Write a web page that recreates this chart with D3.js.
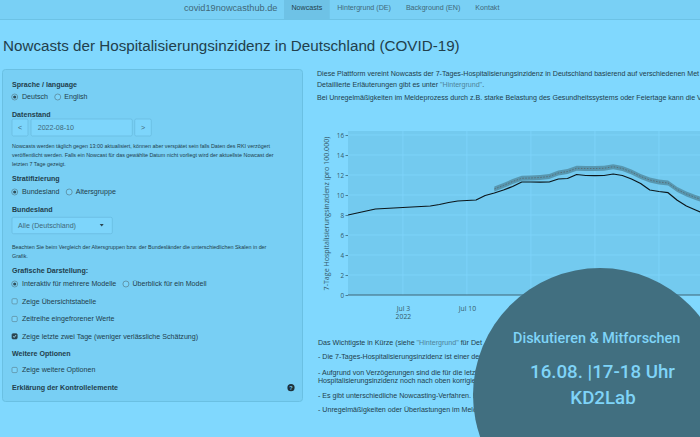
<!DOCTYPE html>
<html><head><meta charset="utf-8">
<script src="https://cdn.jsdelivr.net/npm/d3@7"></script>
<style>html,body{margin:0;padding:0;overflow:hidden;background:#80d8fe;}svg{display:block}</style>
</head><body><svg id="page" width="700" height="437"></svg>
<script>
// ---------------- data ----------------
const reportedDates = ["2022-06-27","2022-06-28","2022-06-29","2022-06-30","2022-07-01","2022-07-02","2022-07-03","2022-07-04","2022-07-05","2022-07-06","2022-07-07","2022-07-08","2022-07-09","2022-07-10","2022-07-11","2022-07-12","2022-07-13","2022-07-14","2022-07-15","2022-07-16","2022-07-17","2022-07-18","2022-07-19","2022-07-20","2022-07-21","2022-07-22","2022-07-23","2022-07-24","2022-07-25","2022-07-26","2022-07-27","2022-07-28","2022-07-29","2022-07-30","2022-07-31","2022-08-01","2022-08-02","2022-08-03","2022-08-04","2022-08-05","2022-08-06"];
const reportedValues = [8.0,8.2,8.4,8.6,8.65,8.7,8.75,8.8,8.85,8.9,9.05,9.25,9.4,9.45,9.5,9.95,10.2,10.5,10.85,11.3,11.3,11.28,11.3,11.6,11.65,12.05,11.95,11.93,11.95,12.1,11.95,11.6,11.15,10.5,10.35,10.23,9.47,8.9,8.5,8.1,7.7];
const nowcastDates = ["2022-07-13","2022-07-14","2022-07-15","2022-07-16","2022-07-17","2022-07-18","2022-07-19","2022-07-20","2022-07-21","2022-07-22","2022-07-23","2022-07-24","2022-07-25","2022-07-26","2022-07-27","2022-07-28","2022-07-29","2022-07-30","2022-07-31","2022-08-01","2022-08-02","2022-08-03","2022-08-04","2022-08-05","2022-08-06"];
const nowcastMedian = [10.6,10.95,11.35,11.67,11.7,11.75,11.85,12.2,12.35,12.67,12.65,12.65,12.67,12.83,12.65,12.3,11.85,11.5,11.3,11.2,10.55,10.1,9.75,9.45,9.15];
const nowcastLower  = [10.35,10.7,11.1,11.42,11.45,11.5,11.6,11.95,12.1,12.42,12.4,12.4,12.42,12.57,12.4,12.05,11.6,11.25,11.05,10.95,10.3,9.85,9.5,9.2,8.9];
const nowcastUpper  = [10.85,11.2,11.6,11.92,11.95,12.0,12.1,12.45,12.6,12.92,12.9,12.9,12.92,13.08,12.9,12.55,12.1,11.75,11.55,11.45,10.8,10.35,10.0,9.7,9.4];
const yTicks = [0,2,4,6,8,10,12,14,16];
const xTickDates = ["2022-07-03","2022-07-10","2022-07-17","2022-07-24","2022-07-31"];
const xDomain = ["2022-06-27","2022-08-10"];
const yMax = 16.4;
const navTabs = ["Nowcasts","Hintergrund (DE)","Background (EN)","Kontakt"];

// ---------------- style ----------------
const C = {bg:"#80d8fe", nav:"#79d0f5", navBorder:"#6cc2e5", active:"#6ec2e6", well:"#78cff4", wellBorder:"#6ac0e3",
  text:"#22404c", muted:"#3f6878", link:"#4d8399", plotBg:"#73caef", grid:"#7fd6fc", axis:"#3e6474", tick:"#35596a",
  circle:"#416f80", circleText:"#7fd4f8", band:"#5491a9", nowLine:"#566f7a", line:"#0b161b", input:"#7dd5fb", inputBorder:"#67b9dc"};
const SANS = "'Liberation Sans', Arial, Helvetica, sans-serif";
const PLOT = "'Open Sans', sans-serif";
const ROBO = "Roboto, sans-serif";

const svg = d3.select("#page");
function txt(g, x, y, s, o = {}) {
  return g.append("text").attr("x", x).attr("y", y).attr("dy", "0.35em")
    .attr("font-family", o.ff || SANS).attr("font-size", o.fs || 7.1).attr("font-weight", o.fw || 400)
    .attr("fill", o.fill || C.text).attr("text-anchor", o.anchor || "start").text(s);
}

// page bg
svg.append("rect").attr("width", 700).attr("height", 437).attr("fill", C.bg);

// ---------------- navbar ----------------
const nav = svg.append("g");
nav.append("rect").attr("width", 700).attr("height", 19.5).attr("fill", C.nav);
nav.append("line").attr("x1", 0).attr("x2", 700).attr("y1", 19.5).attr("y2", 19.5).attr("stroke", C.navBorder);
txt(nav, 184, 7.5, "covid19nowcasthub.de", {fs: 9.2, fill: C.muted});
let cursor = 284;
navTabs.forEach((t, i) => {
  const g = nav.append("g");
  const r = g.append("rect").attr("x", cursor).attr("y", 0).attr("height", 19.5).attr("fill", i === 0 ? C.active : "none");
  const tt = txt(g, cursor + 7.5, 7.5, t, {fs: 7.1, fill: i === 0 ? C.text : C.muted});
  const w = tt.node().getComputedTextLength() + 15;
  r.attr("width", w);
  cursor += w;
});

// ---------------- title ----------------
txt(svg, 3, 46, "Nowcasts der Hospitalisierungsinzidenz in Deutschland (COVID-19)", {fs: 15.2, fill: C.text});

// ---------------- sidebar ----------------
const sb = svg.append("g");
sb.append("rect").attr("x", 2.5).attr("y", 69.5).attr("width", 300).attr("height", 332).attr("rx", 3)
  .attr("fill", C.well).attr("stroke", C.wellBorder);
function label(y, s) { return txt(sb, 12, y, s, {fw: 700}); }
function radio(cx, cy, on) {
  sb.append("circle").attr("cx", cx).attr("cy", cy).attr("r", 3).attr("fill", C.input).attr("stroke", "#5b8898").attr("stroke-width", 0.8);
  if (on) sb.append("circle").attr("cx", cx).attr("cy", cy).attr("r", 1.6).attr("fill", "#2e4e5a");
}
function radioRow(cy, a, b) {
  radio(14.7, cy, true);
  const t = txt(sb, 22, cy, a);
  const end = 22 + t.node().getComputedTextLength();
  radio(end + 9.7, cy, false);
  txt(sb, end + 16.2, cy, b);
}
function checkbox(cy, s, on) {
  sb.append("rect").attr("x", 12).attr("y", cy - 2.6).attr("width", 5.2).attr("height", 5.2).attr("rx", 1)
    .attr("fill", on ? "#2b4550" : C.input).attr("stroke", on ? "#2b4550" : "#5b8898").attr("stroke-width", 0.7);
  if (on) sb.append("path").attr("d", `M13.3,${cy} L14.2,${cy + 1.1} L16,${cy - 1.2}`).attr("fill", "none").attr("stroke", "#9fe2ff").attr("stroke-width", 0.9);
  txt(sb, 22, cy, s);
}
function note(y, s) { return txt(sb, 12, y, s, {fs: 5.4}); }
function box(x0, x1, y0, y1) {
  sb.append("rect").attr("x", x0).attr("y", y0).attr("width", x1 - x0).attr("height", y1 - y0).attr("rx", 1.5)
    .attr("fill", C.input).attr("stroke", C.inputBorder).attr("stroke-width", 0.7);
}

label(84.3, "Sprache / language");
radioRow(97, "Deutsch", "English");
label(114.3, "Datenstand");
box(12, 28, 119, 136); txt(sb, 20, 127.5, "<", {anchor: "middle", fill: C.muted});
box(31, 132.3, 119, 136); txt(sb, 37.7, 127.5, "2022-08-10", {fill: C.muted});
box(134.7, 151.3, 119, 136); txt(sb, 143, 127.5, ">", {anchor: "middle", fill: C.muted});
note(146, "Nowcasts werden täglich gegen 13:00 aktualisiert, können aber verspätet sein falls Daten des RKI verzögert");
note(155, "veröffentlicht werden. Falls ein Nowcast für das gewählte Datum nicht vorliegt wird der aktuellste Nowcast der");
note(164, "letzten 7 Tage gezeigt.");
label(178.3, "Stratifizierung");
radioRow(192, "Bundesland", "Altersgruppe");
label(209.7, "Bundesland");
box(12, 112.3, 217.3, 233.7);
txt(sb, 18, 225.5, "Alle (Deutschland)", {fill: C.muted});
sb.append("path").attr("d", "M99.7,224 L103.7,224 L101.7,226.6 Z").attr("fill", "#2b4550");
note(247.3, "Beachten Sie beim Vergleich der Altersgruppen bzw. der Bundesländer die unterschiedlichen Skalen in der");
note(256, "Grafik.");
label(270.3, "Grafische Darstellung:");
radioRow(284, "Interaktiv für mehrere Modelle", "Überblick für ein Modell");
checkbox(301.3, "Zeige Übersichtstabelle", false);
checkbox(319, "Zeitreihe eingefrorener Werte", false);
checkbox(336.3, "Zeige letzte zwei Tage (weniger verlässliche Schätzung)", true);
label(354, "Weitere Optionen");
checkbox(370, "Zeige weitere Optionen", false);
label(387.7, "Erklärung der Kontrollelemente");
sb.append("circle").attr("cx", 291).attr("cy", 387.7).attr("r", 3.6).attr("fill", "#1e313a");
txt(sb, 291, 387.9, "?", {fs: 5.6, fw: 700, fill: C.well, anchor: "middle"});

// ---------------- right column text (page is cut at the window edge) ----------------
const rc = svg.append("g");
txt(rc, 317, 74, "Diese Plattform vereint Nowcasts der 7-Tages-Hospitalisierungsinzidenz in Deutschland basierend auf verschiedenen Met");
{
  const t = txt(rc, 317, 85, "Detaillierte Erläuterungen gibt es unter ");
  t.append("tspan").attr("fill", C.link).text("\"Hintergrund\"");
  t.append("tspan").text(".");
}
txt(rc, 317, 97.7, "Bei Unregelmäßigkeiten im Meldeprozess durch z.B. starke Belastung des Gesundheitssystems oder Feiertage kann die V");

// ---------------- chart ----------------
const parse = d3.timeParse("%Y-%m-%d");
const x = d3.scaleTime().domain(xDomain.map(parse)).range([348, 750.4]);
const y = d3.scaleLinear().domain([0, yMax]).range([295, 131]);
const ch = svg.append("g");
const [xa, xb] = x.range();
ch.append("rect").attr("x", xa).attr("y", y(yMax)).attr("width", 700 - xa).attr("height", y(0) - y(yMax)).attr("fill", C.plotBg);
ch.append("g").selectAll("line").data(yTicks.filter(v => v > 0)).join("line")
  .attr("x1", xa).attr("x2", 700).attr("y1", d => y(d)).attr("y2", d => y(d)).attr("stroke", C.grid).attr("stroke-width", 0.8);
ch.append("g").selectAll("line").data(xTickDates.map(parse)).join("line")
  .attr("x1", d => x(d)).attr("x2", d => x(d)).attr("y1", y(yMax)).attr("y2", y(0)).attr("stroke", C.grid).attr("stroke-width", 0.8);

const clip = svg.append("clipPath").attr("id", "plotclip");
clip.append("rect").attr("x", xa).attr("y", 0).attr("width", 700 - xa).attr("height", 437);
const marks = ch.append("g").attr("clip-path", "url(#plotclip)");
const rep = reportedDates.map((d, i) => ({date: parse(d), v: reportedValues[i]}));
const nc = nowcastDates.map((d, i) => ({date: parse(d), m: nowcastMedian[i], lo: nowcastLower[i], hi: nowcastUpper[i]}));
marks.append("path").datum(nc).attr("fill", C.band).attr("opacity", 0.9)
  .attr("d", d3.area().x(d => x(d.date)).y0(d => y(d.lo)).y1(d => y(d.hi)));
marks.append("path").datum(nc).attr("fill", "none").attr("stroke", C.nowLine).attr("stroke-width", 1).attr("stroke-dasharray", "1.5,1.5")
  .attr("d", d3.line().x(d => x(d.date)).y(d => y(d.m)));
marks.append("path").datum(rep).attr("fill", "none").attr("stroke", C.line).attr("stroke-width", 1.2).attr("stroke-linejoin", "round")
  .attr("d", d3.line().x(d => x(d.date)).y(d => y(d.v)));
// zero line
ch.append("line").attr("x1", xa).attr("x2", 700).attr("y1", y(0)).attr("y2", y(0)).attr("stroke", C.axis).attr("stroke-width", 1);

// y axis
const ya = ch.append("g").attr("transform", `translate(${xa},0)`)
  .call(d3.axisLeft(y).tickValues(yTicks).tickSize(2.5).tickPadding(1.5));
ya.select(".domain").remove();
ya.selectAll("line").attr("stroke", C.axis).attr("stroke-width", 0.8);
ya.selectAll("text").attr("font-family", PLOT).attr("font-size", 6.3).attr("fill", C.tick);

// x axis
const xAx = ch.append("g").attr("transform", `translate(0,${y(0)})`)
  .call(d3.axisBottom(x).tickValues(xTickDates.map(parse)).tickSize(0).tickFormat(d3.timeFormat("%b %-d")));
xAx.select(".domain").remove();
xAx.selectAll("text").attr("y", 14).attr("dy", "0.35em").attr("font-family", PLOT).attr("font-size", 6.8).attr("fill", C.tick);
xAx.select(".tick text").append("tspan").attr("x", 0).attr("dy", "1.15em").text("2022");

// y title
ch.append("text").attr("transform", "translate(326,213.5) rotate(-90)").attr("dy", "0.35em")
  .attr("text-anchor", "middle").attr("font-family", PLOT).attr("font-size", 7.1).attr("fill", C.tick)
  .text("7-Tage Hospitalisierungsinzidenz (pro 100.000)");

// ---------------- text below chart ----------------
const bt = svg.append("g");
{
  const t = txt(bt, 318, 342.7, "Das Wichtigste in Kürze (siehe ");
  t.append("tspan").attr("fill", C.link).text("\"Hintergrund\"");
  t.append("tspan").text(" für Det");
}
txt(bt, 318, 356.7, "- Die 7-Tages-Hospitalisierungsinzidenz ist einer der Leit");
txt(bt, 318, 372.3, "- Aufgrund von Verzögerungen sind die für die letzten Tage");
txt(bt, 318, 381, "Hospitalisierungsinzidenz noch nach oben korrigiert werden.");
txt(bt, 318, 396, "- Es gibt unterschiedliche Nowcasting-Verfahren. Diese");
txt(bt, 318, 410, "- Unregelmäßigkeiten oder Überlastungen im Meldeprozess");

// ---------------- event circle ----------------
const ev = svg.append("g");
ev.append("circle").attr("cx", 600).attr("cy", 395).attr("r", 127).attr("fill", C.circle);
txt(ev, 596.7, 338.3, "Diskutieren & Mitforschen", {ff: ROBO, fs: 14.4, fw: 500, fill: C.circleText, anchor: "middle"});
txt(ev, 602.5, 371.7, "16.08. |17-18 Uhr", {ff: ROBO, fs: 18.7, fw: 500, fill: C.circleText, anchor: "middle"});
txt(ev, 603, 397.7, "KD2Lab", {ff: ROBO, fs: 18.7, fw: 500, fill: C.circleText, anchor: "middle"});
</script>
</body></html>
